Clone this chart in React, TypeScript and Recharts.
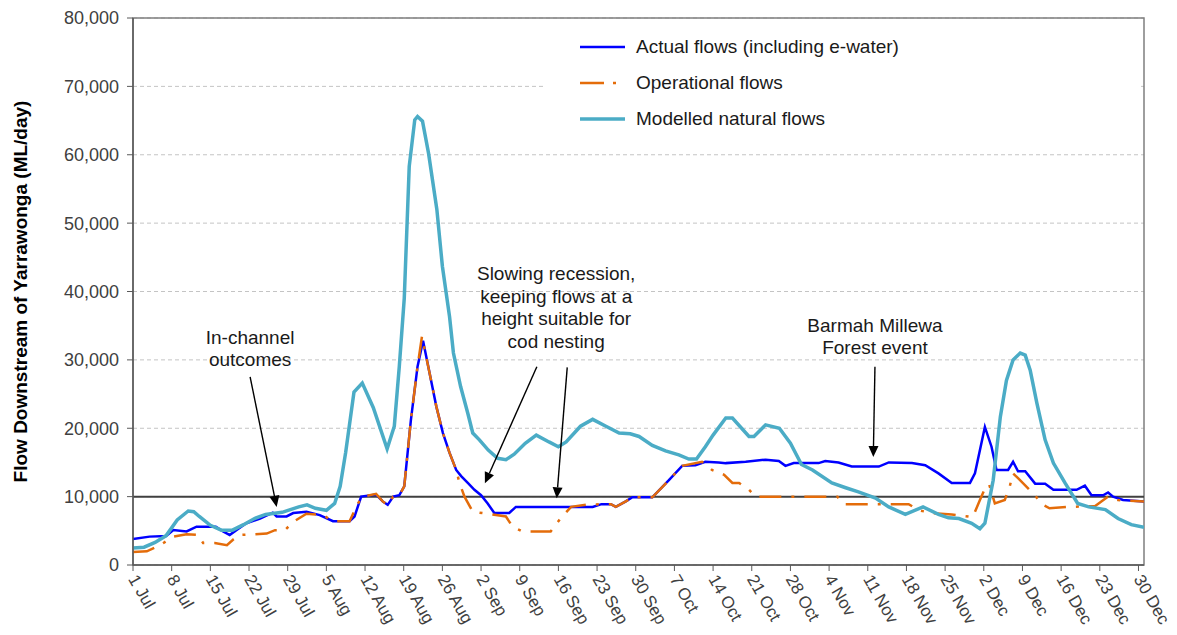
import React from 'react';
import {
  LineChart,
  Line,
  XAxis,
  YAxis,
  CartesianGrid,
  ReferenceLine,
  ReferenceArea,
  ReferenceDot,
  Legend,
} from 'recharts';

const FONT = '"Liberation Sans", Arial, Helvetica, sans-serif';

// x axis: day index counted from 1 July
const xTickDays = [0, 7, 14, 21, 28, 35, 42, 49, 56, 63, 70, 77, 84, 91, 98, 105, 112, 119, 126, 133, 140, 147, 154, 161, 168, 175, 182];
const xTickLabels = ['1 Jul', '8 Jul', '15 Jul', '22 Jul', '29 Jul', '5 Aug', '12 Aug', '19 Aug', '26 Aug', '2 Sep', '9 Sep', '16 Sep', '23 Sep', '30 Sep', '7 Oct', '14 Oct', '21 Oct', '28 Oct', '4 Nov', '11 Nov', '18 Nov', '25 Nov', '2 Dec', '9 Dec', '16 Dec', '23 Dec', '30 Dec'];
const yTicks = [0, 10000, 20000, 30000, 40000, 50000, 60000, 70000, 80000];

// [day, ML/day]
const actualFlows: [number, number][] = [
  [0, 3800], [3, 4150], [6, 4250], [7.3, 5100], [9.7, 4900], [11.5, 5600], [15, 5600], [16.3, 4900], [17.5, 4400],
  [18.7, 5100], [20.5, 6100], [23, 6800], [25.3, 7650], [26, 7100], [27.8, 7100], [29, 7600], [31.4, 7800],
  [33.8, 7300], [36.2, 6400], [39.2, 6400], [40.1, 7100], [41.3, 10000], [44, 10300], [45.2, 9300], [46.1, 8800],
  [47.1, 10000], [48.2, 10200], [49.1, 11500], [50.3, 21200], [51.5, 29000], [52.5, 32800], [53.7, 28000],
  [54.9, 23200], [56.1, 19300], [57.3, 16400], [58.5, 13900], [59.4, 13000], [60.6, 12000], [61.8, 11000],
  [63, 10200], [64.2, 9000], [65.4, 7600], [68.1, 7600], [69.3, 8500], [79, 8500], [83.2, 8500], [84.8, 8900],
  [86.5, 8900], [87.4, 8500], [89.2, 9300], [90.4, 9900], [94, 9900], [97, 12400], [99.4, 14500], [101.8, 14600],
  [103.6, 15100], [106, 15000], [107.3, 14900], [110.9, 15100], [114.5, 15400], [116.9, 15200], [118.1, 14500],
  [119.6, 14900], [124.1, 14900], [125.3, 15200], [127.7, 15000], [130.1, 14400], [135, 14400], [136.8, 15000],
  [141, 14900], [143.4, 14600], [145.8, 13400], [148.2, 12000], [151.5, 12000], [152.4, 13400], [154.2, 20200],
  [155.4, 17300], [156.3, 13900], [158.4, 13900], [159.3, 15100], [160.2, 13700], [161.5, 13700], [163.3, 11900],
  [165.1, 11900], [166.6, 11000], [170.8, 11000], [172.3, 11600], [173.5, 10200], [175.6, 10200], [176.5, 10600],
  [177.4, 10000], [179.2, 9500], [183, 9300],
];

const operationalFlows: [number, number][] = [
  [0, 1900], [2.5, 2000], [4.9, 2900], [7.3, 4150], [9.7, 4500], [11.8, 4400], [12.7, 3200], [14.8, 3200],
  [17, 2900], [18.1, 3700], [19.3, 4400], [22, 4500], [24.2, 4600], [25.7, 5100], [27.5, 5100], [29, 6300],
  [31.4, 7500], [34.4, 7300], [36.2, 6400], [39.2, 6400], [40.7, 9000], [41.6, 10000], [44, 10400], [45.2, 9300],
  [46.1, 8800], [47.1, 10000], [48.2, 10200], [49.1, 11500], [50.3, 21200], [51.5, 29000], [52.3, 33400],
  [53.7, 28000], [54.9, 23200], [56.1, 19300], [57.3, 16400], [58.5, 13900], [59.1, 12000], [60, 10000],
  [61.5, 7800], [65.7, 7300], [67.5, 7100], [68.7, 5600], [70.5, 4900], [75.6, 4900], [76.5, 5900], [77.7, 7100],
  [79.3, 8500], [82, 8800], [84.8, 8900], [86.5, 8900], [87.4, 8500], [89.2, 9300], [90.4, 9900], [94, 9900],
  [97, 12400], [99.4, 14500], [103, 15100], [104.8, 13900], [107, 13200], [108.5, 12000], [109.7, 12000],
  [111.5, 11000], [112.7, 10000], [127.5, 10000], [128.6, 8900], [140.4, 8900], [142.2, 8000], [144.6, 7600],
  [148.2, 7400], [152, 7000], [153.3, 9500], [154.5, 11700], [155, 11700], [156, 9000], [157.8, 9500],
  [158.7, 11500], [159.3, 13400], [160.2, 12700], [162.9, 10500], [164.7, 8800], [165.9, 8300], [169.4, 8500],
  [174.1, 8600], [176.5, 10000], [178.3, 9500], [180.1, 9400], [183, 9300],
];

const modelledFlows: [number, number][] = [
  [0, 2500], [2, 2600], [4, 3300], [6, 4300], [8, 6600], [10, 7900], [11, 7800], [12, 7100], [14, 5800],
  [16, 5100], [18, 5100], [20, 5900], [22, 6800], [24, 7400], [27, 7700], [30, 8500], [31.5, 8800], [33, 8300],
  [35, 8000], [36.5, 9000], [37.5, 11500], [38.5, 16500], [40, 25300], [41.5, 26600], [43.5, 23000], [46, 17000],
  [47.3, 20300], [48.2, 29000], [49.1, 39000], [50, 58300], [51, 65100], [51.5, 65600], [52.4, 64900],
  [53.5, 60200], [55, 52000], [56, 43700], [57.3, 36300], [58, 31000], [59.3, 26100], [60.6, 22200], [61.5, 19300],
  [62.7, 18300], [64.3, 16800], [66, 15600], [67.5, 15400], [69, 16200], [71, 17800], [73, 19000], [75.3, 18000],
  [77, 17300], [78.4, 18000], [81, 20300], [83.2, 21300], [85.6, 20300], [88, 19300], [90, 19200], [91.6, 18800],
  [94, 17500], [96.4, 16700], [98.8, 16100], [100.6, 15500], [102, 15500], [103.6, 17300], [105, 19000],
  [107.3, 21500], [108.5, 21500], [111.5, 18800], [112.4, 18800], [114.5, 20500], [117, 20000], [119, 17800],
  [121, 14700], [123, 13900], [126.5, 12000], [129, 11300], [131.3, 10700], [134.4, 9800], [136.8, 8500],
  [139.8, 7400], [143, 8500], [145.8, 7400], [147.6, 6900], [149.5, 6800], [151.8, 6100], [153.3, 5300],
  [154.2, 6100], [155.7, 12400], [157, 21700], [158.1, 27000], [159.3, 30000], [160.6, 31000], [161.5, 30700],
  [162.4, 28500], [163.6, 23700], [165.1, 18300], [166.6, 14900], [168.7, 12000], [171, 9000], [173, 8500],
  [176, 8100], [178.3, 6800], [180.7, 5900], [183, 5500],
];

const seriesNames = ['Actual flows (including e-water)', 'Operational flows', 'Modelled natural flows'];
const seriesColors = ['#0000FF', '#E46C0A', '#4BACC6'];

const annotationTexts: { lines: string[]; day: number; flow: number }[] = [
  { lines: ['In-channel', 'outcomes'], day: 21.2, flow: 33300 },
  { lines: ['Slowing recession,', 'keeping flows at a', 'height suitable for', 'cod nesting'], day: 76.6, flow: 42600 },
  { lines: ['Barmah Millewa', 'Forest event'], day: 134.3, flow: 35100 },
];
const annotationArrows: { from: [number, number]; to: [number, number] }[] = [
  { from: [21.2, 27500], to: [26.0, 8500] },
  { from: [73.1, 29000], to: [63.7, 11950] },
  { from: [78.6, 28900], to: [76.7, 9750] },
  { from: [134.3, 29000], to: [134.0, 15800] },
];

const toRows = (arr: [number, number][]) => arr.map(([day, v]) => ({ day, v }));

const XTick = (props: any) => {
  const { x, y, payload } = props;
  const idx = xTickDays.indexOf(payload.value);
  return (
    <text
      x={x}
      y={y}
      transform={`rotate(60, ${x}, ${y})`}
      textAnchor="start"
      dy="0.35em"
      fontSize={17}
      fontFamily={FONT}
      fill="#404040"
    >
      {xTickLabels[idx]}
    </text>
  );
};

const fmt = (v: number) => v.toLocaleString('en-US');

const ArrowShape = (props: any) => {
  const { x1, y1, x2, y2 } = props;
  const dx = x2 - x1;
  const dy = y2 - y1;
  const len = Math.sqrt(dx * dx + dy * dy) || 1;
  const ux = dx / len;
  const uy = dy / len;
  const head = 11;
  const half = 5;
  const bx = x2 - ux * head;
  const by = y2 - uy * head;
  const pts = `${x2},${y2} ${bx - uy * half},${by + ux * half} ${bx + uy * half},${by - ux * half}`;
  return (
    <g>
      <line x1={x1} y1={y1} x2={bx} y2={by} stroke="#000" strokeWidth={1.4} />
      <polygon points={pts} fill="#000" />
    </g>
  );
};

const makeTextShape = (lines: string[]) => (props: any) => {
  const { cx, cy } = props;
  return (
    <text x={cx} y={cy} textAnchor="middle" fontSize={19} fontFamily={FONT} fill="#1a1a1a">
      {lines.map((l, i) => (
        <tspan key={i} x={cx} dy={i === 0 ? '0.35em' : 22.5}>
          {l}
        </tspan>
      ))}
    </text>
  );
};

const LegendBox = () => (
  <div style={{ width: 594, height: 118, background: '#fff', position: 'relative' }}>
    {seriesNames.map((name, i) => (
      <div
        key={name}
        style={{ position: 'absolute', left: 35, top: 22 + i * 36 - 12, height: 24, display: 'flex', alignItems: 'center' }}
      >
        <svg width={45} height={10} style={{ display: 'block' }}>
          <line
            x1={0}
            y1={5}
            x2={45}
            y2={5}
            stroke={seriesColors[i]}
            strokeWidth={i === 2 ? 3.5 : 2.5}
            strokeDasharray={i === 1 ? '24 9 3 30' : undefined}
          />
        </svg>
        <span style={{ marginLeft: 11, fontSize: 19, fontFamily: FONT, color: '#1a1a1a', whiteSpace: 'nowrap' }}>{name}</span>
      </div>
    ))}
  </div>
);

export default function App() {
  return (
    <div style={{ width: 1169, height: 627, background: '#fff' }}>
      <LineChart width={1169} height={627} margin={{ top: 10, right: 33, bottom: 0, left: 0 }}>
        <CartesianGrid vertical={false} stroke="#c4c4c4" strokeDasharray="4 3" />
        <ReferenceArea x1={0} x2={183} y1={0} y2={80000} fill="none" stroke="#7f7f7f" strokeWidth={1.5} />
        <XAxis
          type="number"
          dataKey="day"
          domain={[0, 183]}
          ticks={xTickDays}
          interval={0}
          height={70}
          tick={<XTick />}
          tickSize={6}
          tickMargin={5}
          axisLine={{ stroke: '#595959', strokeWidth: 1.5 }}
          tickLine={{ stroke: '#595959' }}
          allowDataOverflow
        />
        <YAxis
          type="number"
          domain={[0, 80000]}
          ticks={yTicks}
          interval={0}
          width={125}
          tickSize={6}
          tickMargin={8}
          tickFormatter={fmt}
          tick={{ fontSize: 18, fontFamily: FONT, fill: '#404040' }}
          axisLine={{ stroke: '#595959', strokeWidth: 1.5 }}
          tickLine={{ stroke: '#595959' }}
          label={{
            value: 'Flow Downstream of Yarrawonga (ML/day)',
            angle: -90,
            position: 'insideLeft',
            offset: 12,
            style: { textAnchor: 'middle', fontSize: 19, fontWeight: 'bold', fontFamily: FONT, fill: '#000' },
          }}
        />
        <ReferenceLine y={10000} stroke="#404040" strokeWidth={2} />
        <Legend
          layout="horizontal"
          verticalAlign="middle"
          align="center"
          content={() => <LegendBox />}
          wrapperStyle={{ left: 537, top: 17, width: 594, height: 118 }}
        />
        <Line
          data={toRows(actualFlows)}
          dataKey="v"
          name={seriesNames[0]}
          type="linear"
          stroke={seriesColors[0]}
          strokeWidth={2.5}
          dot={false}
          isAnimationActive={false}
        />
        <Line
          data={toRows(operationalFlows)}
          dataKey="v"
          name={seriesNames[1]}
          type="linear"
          stroke={seriesColors[1]}
          strokeWidth={2.5}
          strokeDasharray="22 10 3 10"
          dot={false}
          isAnimationActive={false}
        />
        <Line
          data={toRows(modelledFlows)}
          dataKey="v"
          name={seriesNames[2]}
          type="linear"
          stroke={seriesColors[2]}
          strokeWidth={3.5}
          dot={false}
          isAnimationActive={false}
        />
        {annotationArrows.map((a, i) => (
          <ReferenceLine
            key={`arr${i}`}
            segment={[{ x: a.from[0], y: a.from[1] }, { x: a.to[0], y: a.to[1] }]}
            shape={ArrowShape}
          />
        ))}
        {annotationTexts.map((t, i) => (
          <ReferenceDot key={`txt${i}`} x={t.day} y={t.flow} r={0} shape={makeTextShape(t.lines)} />
        ))}
      </LineChart>
    </div>
  );
}
